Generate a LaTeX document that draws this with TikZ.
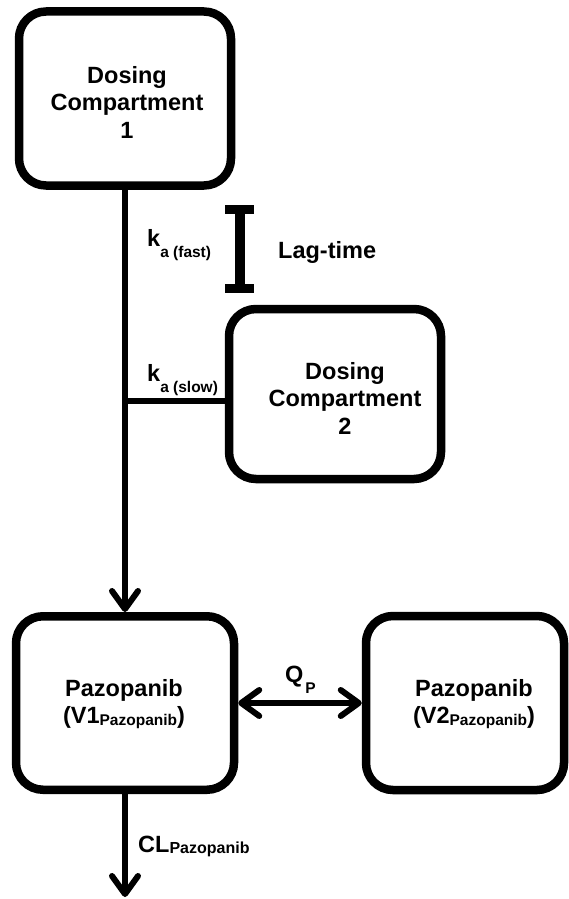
\documentclass[tikz,border=0pt]{standalone}
\usepackage{fontspec}
\setmainfont{Liberation Sans}
\usetikzlibrary{arrows.meta}
% lowered, smaller subscript text: #1 = drop, #2 = size, #3 = text
\newcommand{\lowsub}[3]{\raisebox{-#1}{\fontsize{#2}{#2}\selectfont #3}}
\tikzset{flowtip/.tip={Straight Barb[length=18pt,width=26pt,round]}}
\begin{document}
\begin{tikzpicture}[x=1pt,y=-1pt,
  comp/.style={draw, line width=8.5pt, rounded corners=27pt, fill=white, inner sep=0pt},
  flow/.style={line width=6pt},
  lbl/.style={font=\bfseries\fontsize{23.5pt}{27.5pt}\selectfont, align=center, inner sep=0pt},
]
\useasboundingbox (0,0) rectangle (568,899);

% compartments
\node[comp, minimum width=212pt, minimum height=174pt] (dc1) at (125,98.5) {};
\node[comp, minimum width=212pt, minimum height=170pt] (dc2) at (335,394) {};
\node[comp, minimum width=218pt, minimum height=173.5pt] (v1) at (125,703) {};
\node[comp, minimum width=198pt, minimum height=174pt] (v2) at (465,703) {};

% compartment labels
\node[lbl] (t1) at (127,102) {Dosing\\Compartment\\1};
\node[lbl] (t2) at (345,398) {Dosing\\Compartment\\2};
\node[lbl] (t3) at (124,704) {Pazopanib\\(V1\lowsub{1.5pt}{15.5pt}{Pazopanib})};
\node[lbl] (t4) at (474,704) {Pazopanib\\(V2\lowsub{1.5pt}{15.5pt}{Pazopanib})};

% absorption paths
\draw[flow, -flowtip] (dc1.south) -- (v1.north);
\coordinate (split) at (125,401);
\draw[flow] (split) -- (split -| dc2.west);

% inter-compartmental flow and elimination
\draw[flow, flowtip-flowtip] (v1.east) -- (v2.west);
\coordinate (out) at (125,897);
\draw[flow, -flowtip] (v1.south) -- (out);

% lag-time bar
\coordinate (lagtop) at (239.5,209.5);
\coordinate (lagbot) at (239.5,288.5);
\draw[line width=10pt] (lagtop) -- (lagbot);
\draw[line width=9pt] ([xshift=-14.5pt]lagtop) -- ([xshift=14.5pt]lagtop);
\draw[line width=9pt] ([xshift=-14.5pt]lagbot) -- ([xshift=14.5pt]lagbot);
\node[lbl, anchor=base west] (lag) at (278,258) {Lag-time};

% rate constants
\node[lbl, anchor=base west] (kfast) at (147,246.7) {k\lowsub{10.5pt}{15.5pt}{a (fast)}};
\node[lbl, anchor=base west] (kslow) at (147,381.7) {k\lowsub{10.5pt}{15.5pt}{a (slow)}};
\node[lbl, anchor=base west] (qp) at (285,682) {Q\kern2pt\lowsub{11pt}{15.5pt}{P}};
\node[lbl, anchor=base west] (cl) at (138,852) {CL\lowsub{1.5pt}{16pt}{Pazopanib}};
\end{tikzpicture}
\end{document}
